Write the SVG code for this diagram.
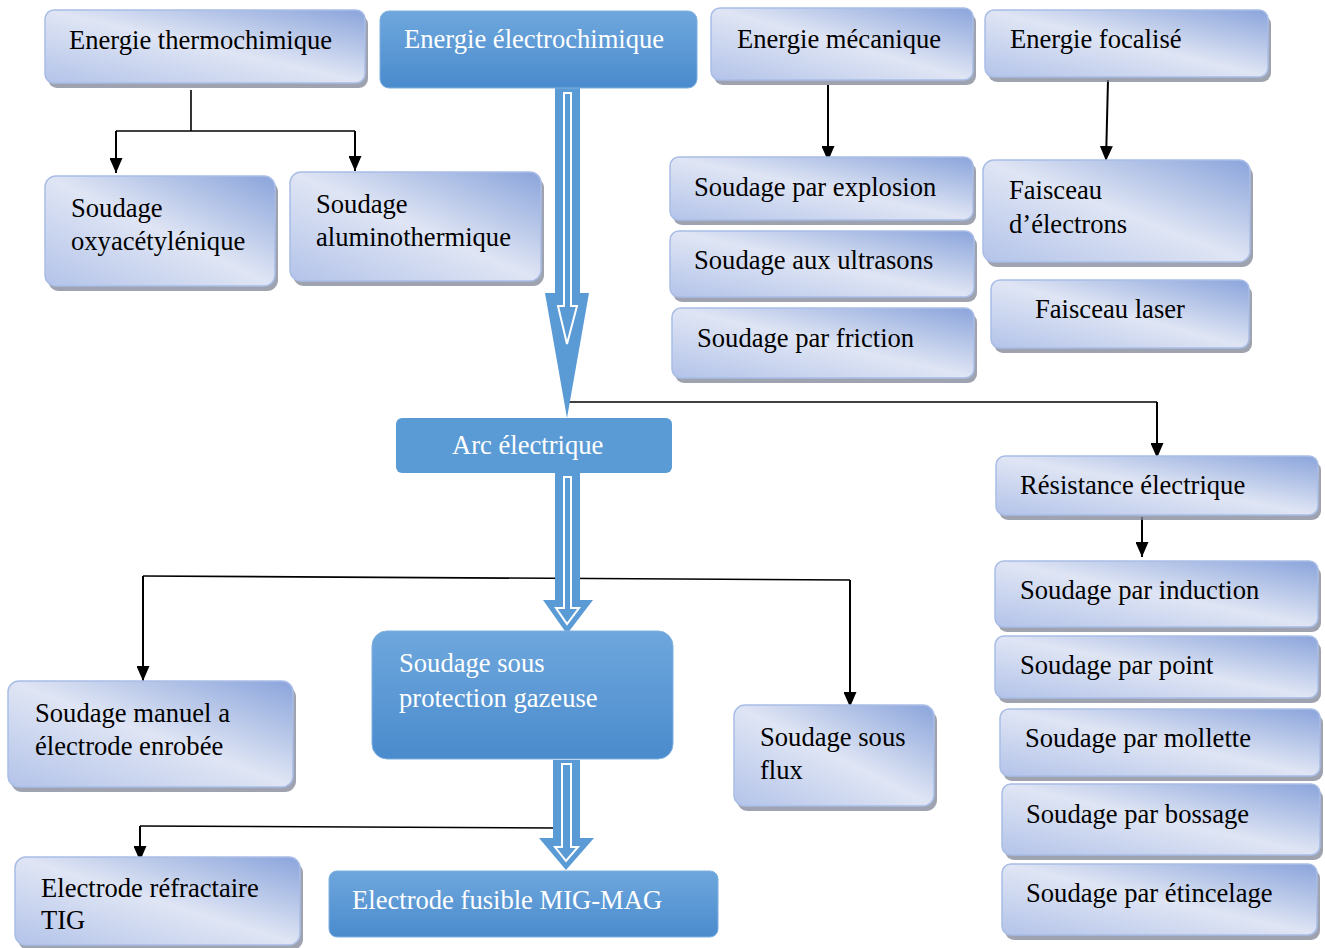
<svg xmlns="http://www.w3.org/2000/svg" width="1325" height="948" viewBox="0 0 1325 948">
<defs>
<linearGradient id="lg" x1="1" y1="0" x2="0" y2="1">
<stop offset="0" stop-color="#8aa4db"/>
<stop offset="0.5" stop-color="#dfe5f4"/>
<stop offset="1" stop-color="#b3c3e9"/>
</linearGradient>
<linearGradient id="bg" x1="0" y1="0" x2="0" y2="1">
<stop offset="0" stop-color="#6ea7dd"/>
<stop offset="1" stop-color="#4a8bcd"/>
</linearGradient>
<marker id="ah" viewBox="0 0 15 13" refX="15" refY="6.5" markerWidth="15" markerHeight="13" markerUnits="userSpaceOnUse" orient="auto">
<path d="M0,0 L15,6.5 L0,13 z" fill="#000"/>
</marker>
</defs>
<style>
.sh{fill:#7d8494;opacity:0.75}
.lb{fill:url(#lg);stroke:#a9bde6;stroke-width:1.5}
.bb{fill:url(#bg);stroke:#7fb0e0;stroke-width:1}
.bf{fill:#5b9bd5}
text{font-family:"Liberation Serif","Times New Roman",serif;font-size:26.6px}
.tk{fill:#000}
.tw{fill:#ffffff}
.ln{fill:none;stroke:#000;stroke-width:1.6}
.ar{fill:none;stroke:#000;stroke-width:2;marker-end:url(#ah)}
.da{fill:#5b9bd5}
.di{fill:#5b9bd5;stroke:#fff;stroke-width:2}
</style>
<rect width="1325" height="948" fill="#fff"/>

<g id="connectors">
<path class="ln" d="M191,90 V131"/>
<path class="ln" d="M116,131 H355"/>
<path class="ar" d="M116,131 V173"/>
<path class="ar" d="M355,131 V171"/>
<path class="ar" d="M828,85 V161"/>
<path class="ar" d="M1108,80 L1106,161"/>
<path class="ln" d="M567,402 H1157"/>
<path class="ar" d="M1157,402 V458"/>
<path class="ar" d="M1142,517 V557"/>
<path class="ln" d="M143,576 L850,580"/>
<path class="ar" d="M143,576 V681"/>
<path class="ar" d="M850,580 V707"/>
<path class="ln" d="M555,828 L140,826"/>
<path class="ar" d="M140,826 V861"/>
<polygon class="da" points="555,88 580,88 580,293 589,293 567,418 545,293 555,293"/>
<polygon class="di" points="564,93 571,93 571,306 577,306 567,344 558,306 564,306"/>
<polygon class="da" points="555,473 580,473 580,600 593,600 567,634 543,600 555,600"/>
<polygon class="di" points="564,477 571,477 571,608 579,608 567,624 556,608 564,608"/>
<polygon class="da" points="553,760 580,760 580,838 594,838 566,870 539,838 553,838"/>
<polygon class="di" points="562,764 571,764 571,847 578,847 566,861 555,847 562,847"/>
</g>

<g id="n-thermo"><rect class="sh" x="48" y="15" width="320" height="73" rx="9"/><rect class="lb" x="45" y="10" width="320" height="73" rx="9"/><text class="tk" x="69" y="49">Energie thermochimique</text></g>
<g id="n-electro"><rect class="bb" x="380" y="11" width="317" height="77" rx="9"/><text class="tw" x="404" y="48">Energie électrochimique</text></g>
<g id="n-meca"><rect class="sh" x="714" y="13" width="262" height="72" rx="9"/><rect class="lb" x="711" y="8" width="262" height="72" rx="9"/><text class="tk" x="737" y="48">Energie mécanique</text></g>
<g id="n-focal"><rect class="sh" x="988" y="15" width="283" height="67" rx="9"/><rect class="lb" x="985" y="10" width="283" height="67" rx="9"/><text class="tk" x="1010" y="48">Energie focalisé</text></g>

<g id="n-oxy"><rect class="sh" x="48" y="181" width="230" height="110" rx="11"/><rect class="lb" x="45" y="176" width="230" height="110" rx="11"/><text class="tk" x="71" y="217">Soudage</text><text class="tk" x="71" y="250">oxyacétylénique</text></g>
<g id="n-alu"><rect class="sh" x="293" y="177" width="251" height="109" rx="11"/><rect class="lb" x="290" y="172" width="251" height="109" rx="11"/><text class="tk" x="316" y="213">Soudage</text><text class="tk" x="316" y="246">aluminothermique</text></g>

<g id="n-explo"><rect class="sh" x="673" y="162" width="303" height="63" rx="9"/><rect class="lb" x="670" y="157" width="303" height="63" rx="9"/><text class="tk" x="694" y="196">Soudage par explosion</text></g>
<g id="n-ultra"><rect class="sh" x="673" y="236" width="304" height="66" rx="9"/><rect class="lb" x="670" y="231" width="304" height="66" rx="9"/><text class="tk" x="694" y="269">Soudage aux ultrasons</text></g>
<g id="n-fric"><rect class="sh" x="675" y="313" width="302" height="70" rx="9"/><rect class="lb" x="672" y="308" width="302" height="70" rx="9"/><text class="tk" x="697" y="347">Soudage par friction</text></g>

<g id="n-faisc-e"><rect class="sh" x="986" y="165" width="267" height="102" rx="11"/><rect class="lb" x="983" y="160" width="267" height="102" rx="11"/><text class="tk" x="1009" y="199">Faisceau</text><text class="tk" x="1009" y="233">d’électrons</text></g>
<g id="n-laser"><rect class="sh" x="994" y="285" width="258" height="68" rx="9"/><rect class="lb" x="991" y="280" width="258" height="68" rx="9"/><text class="tk" x="1035" y="318">Faisceau laser</text></g>

<g id="n-arc"><rect class="bf" x="396" y="418" width="276" height="55" rx="6"/><text class="tw" x="452" y="454">Arc électrique</text></g>

<g id="n-resist"><rect class="sh" x="999" y="461" width="322" height="59" rx="9"/><rect class="lb" x="996" y="456" width="322" height="59" rx="9"/><text class="tk" x="1020" y="494">Résistance électrique</text></g>
<g id="n-induc"><rect class="sh" x="998" y="566" width="323" height="66" rx="9"/><rect class="lb" x="995" y="561" width="323" height="66" rx="9"/><text class="tk" x="1020" y="599">Soudage par induction</text></g>
<g id="n-point"><rect class="sh" x="998" y="641" width="323" height="62" rx="9"/><rect class="lb" x="995" y="636" width="323" height="62" rx="9"/><text class="tk" x="1020" y="674">Soudage par point</text></g>
<g id="n-mol"><rect class="sh" x="1003" y="714" width="320" height="67" rx="9"/><rect class="lb" x="1000" y="709" width="320" height="67" rx="9"/><text class="tk" x="1025" y="747">Soudage par mollette</text></g>
<g id="n-boss"><rect class="sh" x="1005" y="789" width="318" height="71" rx="9"/><rect class="lb" x="1002" y="784" width="318" height="71" rx="9"/><text class="tk" x="1026" y="823">Soudage par bossage</text></g>
<g id="n-etin"><rect class="sh" x="1005" y="869" width="315" height="71" rx="9"/><rect class="lb" x="1002" y="864" width="315" height="71" rx="9"/><text class="tk" x="1026" y="902">Soudage par étincelage</text></g>

<g id="n-manuel"><rect class="sh" x="11" y="686" width="285" height="106" rx="11"/><rect class="lb" x="8" y="681" width="285" height="106" rx="11"/><text class="tk" x="35" y="722">Soudage manuel a</text><text class="tk" x="35" y="755">électrode enrobée</text></g>
<g id="n-gaz"><rect class="bb" x="372" y="631" width="301" height="128" rx="15"/><text class="tw" x="399" y="672">Soudage sous</text><text class="tw" x="399" y="707">protection gazeuse</text></g>
<g id="n-flux"><rect class="sh" x="737" y="710" width="200" height="101" rx="11"/><rect class="lb" x="734" y="705" width="200" height="101" rx="11"/><text class="tk" x="760" y="746">Soudage sous</text><text class="tk" x="760" y="779">flux</text></g>

<g id="n-tig"><rect class="sh" x="18" y="862" width="285" height="88" rx="11"/><rect class="lb" x="15" y="857" width="285" height="88" rx="11"/><text class="tk" x="41" y="897">Electrode réfractaire</text><text class="tk" x="41" y="929">TIG</text></g>
<g id="n-mig"><rect class="bb" x="329" y="871" width="389" height="66" rx="8"/><text class="tw" x="352" y="909">Electrode fusible MIG-MAG</text></g>
</svg>
